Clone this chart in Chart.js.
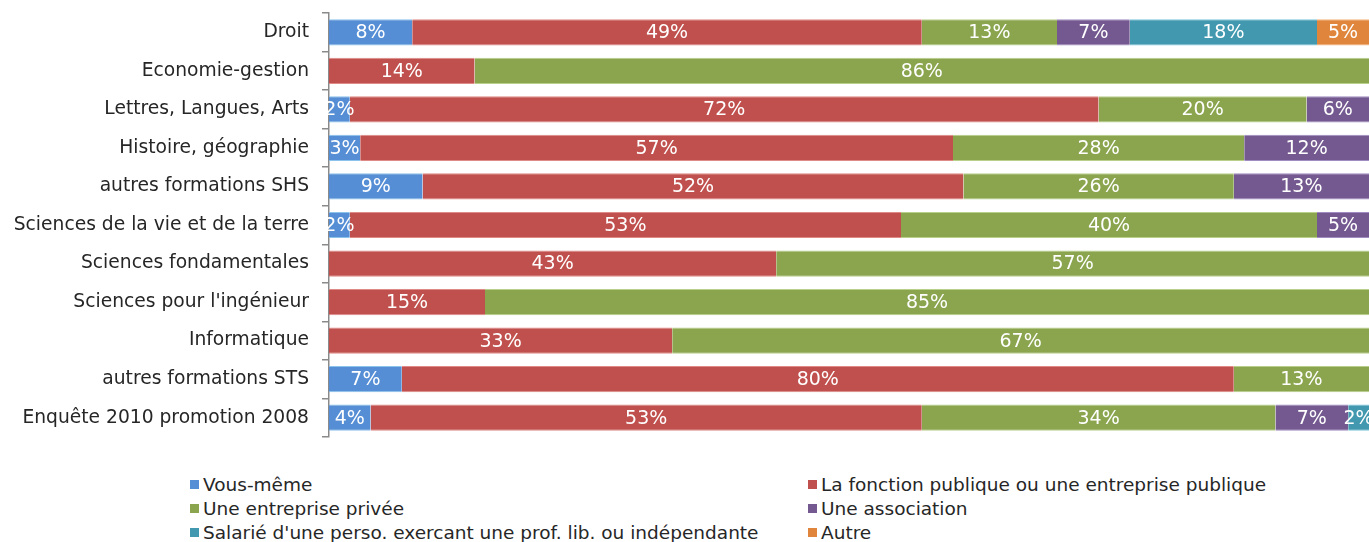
<!DOCTYPE html>
<html><head><meta charset="utf-8">
<script src="https://cdn.jsdelivr.net/npm/chart.js@4"></script>
<style>
html,body{margin:0;padding:0;background:#fff;}
#wrap{position:relative;width:1369px;height:450px;}
#legend{position:absolute;left:190px;top:474px;display:grid;grid-template-columns:618px 500px;row-gap:4px;font-family:"DejaVu Sans",sans-serif;font-size:18.5px;color:#262626;}
#legend div{display:flex;align-items:center;height:20px;white-space:nowrap;}
#legend span.box{display:inline-block;width:9px;height:9px;margin-right:4px;}
</style></head>
<body>
<div id="wrap"><canvas id="c"></canvas></div>
<div id="legend"></div>
<script>
const categories = ["Droit","Economie-gestion","Lettres, Langues, Arts","Histoire, géographie","autres formations SHS","Sciences de la vie et de la terre","Sciences fondamentales","Sciences pour l'ingénieur","Informatique","autres formations STS","Enquête 2010 promotion 2008"];
const seriesNames = ["Vous-même","La fonction publique ou une entreprise publique","Une entreprise privée","Une association","Salarié d'une perso. exercant une prof. lib. ou indépendante","Autre"];
const vousMeme    = [8, 0, 2, 3, 9, 2, 0, 0, 0, 7, 4];
const fonctionPub = [49,14,72,57,52,53,43,15,33,80,53];
const entPrivee   = [13,86,20,28,26,40,57,85,67,13,34];
const association = [7, 0, 6, 12,13,5, 0, 0, 0, 0, 7];
const salarie     = [18,0, 0, 0, 0, 0, 0, 0, 0, 0, 2];
const autre       = [5, 0, 0, 0, 0, 0, 0, 0, 0, 0, 0];
const colors  = ["#558ED5","#C0504D","#8AA54E","#73598F","#4198AF","#E0863C"];
const borders = ["#8CC3EC","#E08A88","#B8D08A","#A08CC0","#7CC8DC","#F5B47C"];
const values = [vousMeme,fonctionPub,entPrivee,association,salarie,autre];

const datasets = seriesNames.map((n,i)=>({
  label:n, data:values[i], backgroundColor:colors[i],
  borderColor:borders[i], borderWidth:{top:1,bottom:1,left:0,right:0},
  borderSkipped:false, barPercentage:0.68, categoryPercentage:1
}));

const labelPlugin = {
  id:'barLabels',
  afterDatasetsDraw(chart){
    const ctx = chart.ctx;
    ctx.save();
    ctx.font = '19px "DejaVu Sans", sans-serif';
    ctx.fillStyle = '#fff';
    ctx.textAlign = 'center';
    ctx.textBaseline = 'middle';
    chart.data.datasets.forEach((ds,di)=>{
      const meta = chart.getDatasetMeta(di);
      meta.data.forEach((el,i)=>{
        const v = ds.data[i];
        if(!v) return;
        const cx = (el.x + el.base)/2;
        ctx.fillText(v+'%', cx, el.y+1);
      });
    });
    ctx.restore();
  }
};

new Chart(document.getElementById('c'),{
  type:'bar',
  data:{labels:categories, datasets},
  options:{
    indexAxis:'y', responsive:true, maintainAspectRatio:false, animation:false,
    layout:{padding:{top:13,bottom:13,left:0,right:0}},
    plugins:{legend:{display:false}, tooltip:{enabled:false}},
    scales:{
      x:{stacked:true, display:false, min:0, max:100},
      y:{stacked:true,
         afterFit(s){ s.width = 329; s.paddingTop = 0; s.paddingBottom = 0; },
         border:{display:true,color:'#8a8a8a',width:1.5},
         grid:{display:true, drawOnChartArea:false, drawTicks:true, tickLength:7, color:'#8a8a8a', lineWidth:1.5, offset:true},
         ticks:{color:'#262626', padding:13, font:{family:'DejaVu Sans', size:18.7}}
      }
    }
  },
  plugins:[labelPlugin]
});

const lg = document.getElementById('legend');
seriesNames.forEach((n,i)=>{
  const d = document.createElement('div');
  const b = document.createElement('span'); b.className='box'; b.style.background=colors[i];
  d.appendChild(b); d.appendChild(document.createTextNode(n));
  lg.appendChild(d);
});
</script>
</body></html>
